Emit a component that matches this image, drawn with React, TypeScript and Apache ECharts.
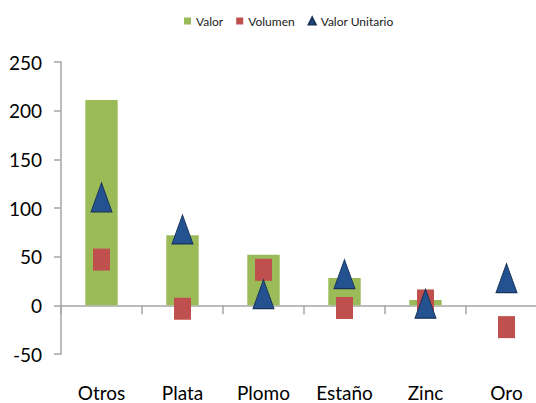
import React, { useEffect, useRef } from "react";
import * as echarts from "echarts";

const categories = ["Otros", "Plata", "Plomo", "Estaño", "Zinc", "Oro"];
const valor = [211, 72, 52, 28, 5.5, null];
const volumen = [47, -3.5, 36.5, -2.7, 5, -22.4];
const valorUnitario = [111, 78, 11.5, 32, 1.7, 28];
const yTicks = { min: -50, max: 250, interval: 50 };

const FONT = "Lato, 'Open Sans', sans-serif";
const AXIS = "#A6A6A6";

export default function App() {
  const ref = useRef<HTMLDivElement>(null);
  useEffect(() => {
    if (!ref.current) return;
    const chart = echarts.init(ref.current, undefined, { renderer: "svg" });
    chart.setOption({
      animation: false,
      legend: {
        top: 10,
        left: 179,
        itemWidth: 7,
        itemHeight: 7,
        itemGap: 13,
        textStyle: { fontFamily: FONT, fontSize: 12, color: "#222" },
        data: [
          { name: "Valor", icon: "rect" },
          { name: "Volumen", icon: "rect" },
          { name: "Valor Unitario", icon: "triangle" },
        ],
      },
      grid: { left: 61, top: 62, bottom: 49, right: 0, containLabel: false },
      xAxis: [
        {
          type: "category",
          data: categories,
          axisLine: { onZero: true, lineStyle: { color: AXIS, width: 1.5 } },
          axisTick: { show: true, length: 9, lineStyle: { color: AXIS, width: 1.5 } },
          axisLabel: { show: false },
        },
        {
          type: "category",
          data: categories,
          position: "bottom",
          axisLine: { show: false, onZero: false },
          axisTick: { show: false },
          axisLabel: { interval: 0, margin: 29, fontFamily: FONT, fontSize: 19, color: "#000" },
        },
      ],
      yAxis: {
        type: "value",
        min: yTicks.min,
        max: yTicks.max,
        interval: yTicks.interval,
        axisLine: { show: true, lineStyle: { color: AXIS, width: 1.5 } },
        axisTick: { show: true, length: 7, lineStyle: { color: AXIS, width: 1.5 } },
        splitLine: { show: false },
        axisLabel: { margin: 19, fontFamily: FONT, fontSize: 19, color: "#000" },
      },
      series: [
        {
          name: "Valor",
          type: "bar",
          xAxisIndex: 0,
          data: valor,
          barWidth: "40%",
          itemStyle: { color: "#9BBB59" },
        },
        {
          name: "Volumen",
          type: "scatter",
          xAxisIndex: 0,
          data: volumen,
          symbol: "rect",
          symbolSize: [17, 22],
          itemStyle: { color: "#C0504D", opacity: 1 },
          z: 3,
        },
        {
          name: "Valor Unitario",
          type: "scatter",
          xAxisIndex: 0,
          data: valorUnitario,
          symbol: "triangle",
          symbolSize: [21, 29],
          itemStyle: { color: "#245290", borderColor: "#17335A", borderWidth: 1, opacity: 1 },
          z: 4,
        },
      ],
    });
    return () => chart.dispose();
  }, []);
  return (
    <div
      ref={ref}
      style={{ position: "fixed", left: 0, top: 0, width: 547, height: 403, background: "#fff" }}
    />
  );
}
